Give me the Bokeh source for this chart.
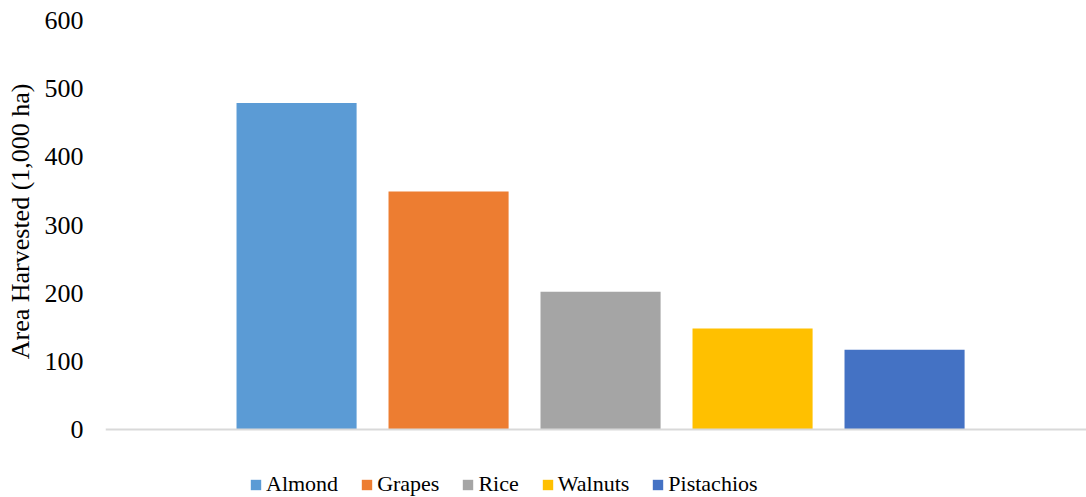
from bokeh.plotting import figure
from bokeh.models import ColumnDataSource, Range1d, FixedTicker, Legend, LegendItem, Span, Title
from bokeh.embed import file_html
from bokeh.resources import INLINE

crops = ["Almond", "Grapes", "Rice", "Walnuts", "Pistachios"]
area = [479, 349, 202, 148, 117]
colors = ["#5B9BD5", "#ED7D31", "#A5A5A5", "#FFC000", "#4472C4"]
y_ticks = [0, 100, 200, 300, 400, 500, 600]
y_label = "Area Harvested (1,000 ha)"

FONT = "Liberation Serif"

# frame spans to the canvas bottom; the extra room under 0 holds the legend
y_bottom = -600 * 68 / 409

p = figure(width=1086, height=497, output_backend="svg", toolbar_location=None,
           x_range=Range1d(-0.257, 6.197), y_range=Range1d(y_bottom, 600),
           min_border_left=105, min_border_right=0, min_border_top=20, min_border_bottom=0)
p.outline_line_color = None
p.grid.visible = False
p.background_fill_color = "white"

renderers = []
for i, (c, v, col) in enumerate(zip(crops, area, colors)):
    src = ColumnDataSource(dict(x=[i + 1], top=[v]))
    r = p.vbar(x="x", top="top", width=0.79, bottom=0, source=src, fill_color=col, line_color=None)
    renderers.append((c, r))

p.xaxis.visible = False
p.add_layout(Span(location=0, dimension="width", line_color="#D9D9D9", line_width=2))

ya = p.yaxis[0]
ya.ticker = FixedTicker(ticks=y_ticks)
ya.axis_line_color = None
ya.major_tick_line_color = None
ya.minor_tick_line_color = None
ya.major_label_text_font = FONT
ya.major_label_text_font_size = "26px"
ya.major_label_text_color = "black"
ya.major_label_standoff = 16

p.add_layout(Title(text=y_label, align="right", offset=63, vertical_align="top", text_font=FONT,
                   text_font_size="26px", text_font_style="normal", text_color="black",
                   standoff=10), "left")

legend = Legend(items=[LegendItem(label=c, renderers=[r]) for c, r in renderers],
                orientation="horizontal", location=(144, 0),
                label_text_font=FONT, label_text_font_size="22px", label_text_color="black",
                glyph_width=13, glyph_height=13, label_standoff=4, spacing=22,
                padding=0, margin=0, border_line_color=None, background_fill_alpha=0)
p.add_layout(legend, "center")

open("out.html", "w").write(file_html(p, INLINE))
